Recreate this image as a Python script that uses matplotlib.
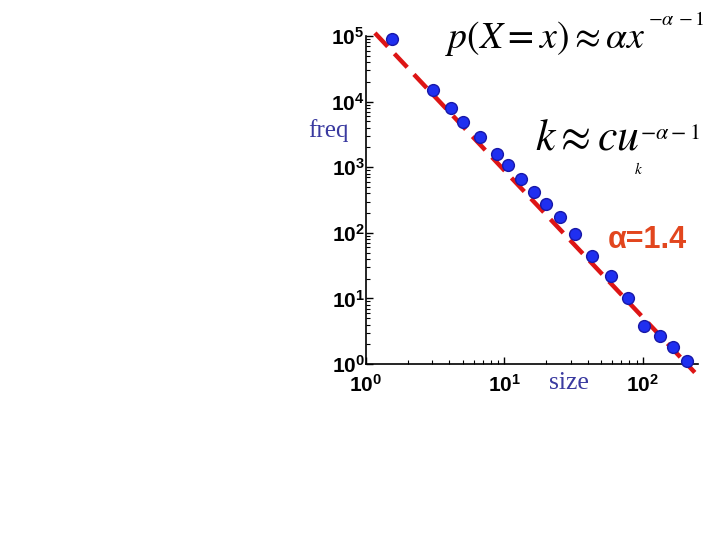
import numpy as np
import matplotlib
matplotlib.use("Agg")
import matplotlib.pyplot as plt
from matplotlib.ticker import FixedLocator, LogLocator, NullFormatter

plt.rcParams['mathtext.fontset'] = 'custom'
plt.rcParams['mathtext.rm'] = 'Liberation Sans:bold'
plt.rcParams['mathtext.bf'] = 'Liberation Sans:bold'
plt.rcParams['mathtext.it'] = 'Liberation Sans:bold'

# data
size = [1.53, 3.03, 4.09, 5.04, 6.66, 8.79, 10.6, 13.1, 16.3, 19.8, 25.0,
        32.3, 43.0, 58.5, 77.6, 101.7, 133, 166, 209]
freq = [89000, 15000, 8070, 4890, 2890, 1590, 1080, 655, 424, 275, 176,
        95, 45, 22, 10.3, 3.8, 2.67, 1.8, 1.11]
fit_log_c = 5.19
fit_slope = -2.24
fit_range = [1.16, 237]
x_tick_exps = [0, 1, 2]
y_tick_exps = [0, 1, 2, 3, 4, 5]

W, H = 720, 540
fig = plt.figure(figsize=(7.2, 5.4), dpi=100)
ax = fig.add_axes([366/W, 1 - 364/H, 332/W, 328/H])
ax.set_xscale('log')
ax.set_yscale('log')
ax.set_xlim(1, 250)
ax.set_ylim(1, 1e5)

fx = np.array(fit_range)
fy = 10**fit_log_c * fx**fit_slope
ax.plot(fx, fy, color='#dd1515', lw=3.2, dashes=(4.2, 2.2), clip_on=False, zorder=2)
ax.plot(size, freq, 'o', color='#1f2ff0', mec='#1818a8', mew=1.0, ms=8.5,
        clip_on=False, zorder=3)

for s in ['top', 'right']:
    ax.spines[s].set_visible(False)
for s in ['left', 'bottom']:
    ax.spines[s].set_linewidth(1.2)

ax.xaxis.set_major_locator(FixedLocator([10.0**e for e in x_tick_exps]))
ax.yaxis.set_major_locator(FixedLocator([10.0**e for e in y_tick_exps]))
ax.xaxis.set_minor_locator(LogLocator(base=10, subs=np.arange(2, 10)))
ax.yaxis.set_minor_locator(LogLocator(base=10, subs=np.arange(2, 10)))
ax.xaxis.set_minor_formatter(NullFormatter())
ax.yaxis.set_minor_formatter(NullFormatter())
ax.set_xticklabels([r'$\mathbf{10^{%d}}$' % e for e in x_tick_exps])
ax.set_yticklabels([r'$\mathbf{10^{%d}}$' % e for e in y_tick_exps])
ax.tick_params(which='major', direction='in', length=5, width=1, labelsize=15)
ax.tick_params(axis='x', which='major', pad=7)
ax.tick_params(axis='y', which='major', pad=1)
ax.tick_params(which='minor', direction='in', length=3, width=0.8)

blue_txt = '#3a3aa0'
fig.text(308/W, 1 - 131/H, 'freq', family='Liberation Serif', fontsize=18,
         color=blue_txt, va='center', ha='left')
fig.text(549/W, 1 - 383/H, 'size', family='Liberation Serif', fontsize=18.5,
         color=blue_txt, va='center', ha='left')

fig.text(608/W, 1 - 240/H, 'α=1.4', family='Liberation Sans', fontweight='bold',
         fontsize=22, color='#e2461e', va='center', ha='left')

# formulas: base text plus separate smaller super/subscripts
f1 = fig.text(445/W, 1 - 48/H, r'$p(X = x) \approx \alpha x$',
              math_fontfamily='stix', fontsize=27.2, va='baseline', ha='left')
f2 = fig.text(535/W, 1 - 150/H, r'$k \approx cu$',
              math_fontfamily='stix', fontsize=31.5, va='baseline', ha='left')
fig.canvas.draw()
r = fig.canvas.get_renderer()
b1 = f1.get_window_extent(r)
b2 = f2.get_window_extent(r)
fig.text((b1.x1 + 3)/W, 1 - 25/H, r'$-\alpha\,-1$', math_fontfamily='stix',
         fontsize=14.5, va='baseline', ha='left')
fig.text((b2.x1 + 1)/W, 1 - 139/H, r'$-\alpha-1$', math_fontfamily='stix',
         fontsize=16, va='baseline', ha='left')
fig.text((b2.x1 - 5)/W, 1 - 174/H, r'$k$', math_fontfamily='stix',
         fontsize=11, va='baseline', ha='left')

fig.savefig('out.png', dpi=100, facecolor='white')
